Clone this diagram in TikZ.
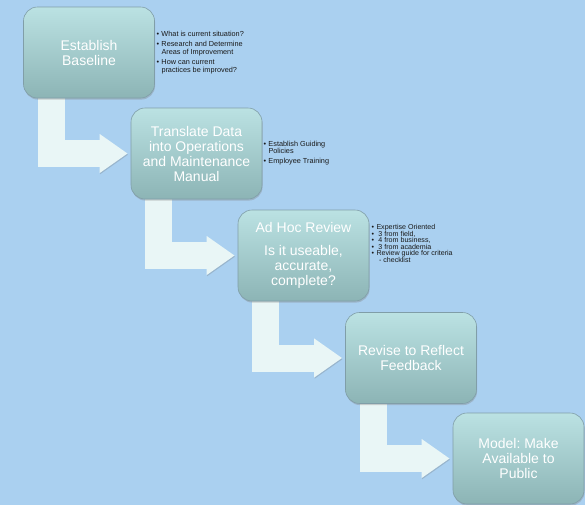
\documentclass[tikz,border=0pt]{standalone}
\usepackage{fontspec}
\setmainfont{Liberation Sans}
\usepackage{tikz}
\frenchspacing
\definecolor{bgblue}{RGB}{170,208,240}
\definecolor{boxtop}{RGB}{187,226,227}
\definecolor{boxbot}{RGB}{140,180,181}
\definecolor{boxline}{RGB}{128,158,168}
\definecolor{arrowfill}{RGB}{233,246,246}
\tikzstyle{stage}=[shape=rectangle,
                rounded corners=14pt,
                minimum width=131pt,
                minimum height=91pt,
                inner sep=0pt,
                top color=boxtop,
                bottom color=boxbot,
                draw=boxline,
                line width=0.6pt,
                text=white,
                align=center,
                font=\fontsize{14}{15}\selectfont,
                drop shadow={shadow xshift=0.6pt, shadow yshift=-1.6pt, opacity=0.35}]
\tikzstyle{notes}=[align=left,
                inner sep=0pt,
                text=black!90,
                font=\fontsize{7.3}{8}\selectfont]
\tikzstyle{flow}=[line width=27pt,
                draw=arrowfill,
                -{Triangle[width=37pt, length=28pt]},
                shorten >=3pt,
                preaction={draw=black!60, opacity=0.25,
                           transform canvas={shift={(0.5pt,-1.2pt)}}}]
\usetikzlibrary{positioning, calc, arrows.meta, shadows}
\pgfdeclarelayer{bg}
\pgfdeclarelayer{arr}
\pgfsetlayers{bg,arr,main}
\newcommand{\bul}{\makebox[5pt][l]{\textbullet}}
\newcommand{\bulind}{\hspace*{5pt}}

\begin{document}
\begin{tikzpicture}[x=1pt, y=1pt]

\useasboundingbox (0,0) rectangle (585,-504);
\begin{pgfonlayer}{bg}
\fill[bgblue] (-5,5) rectangle (590,-510);
\end{pgfonlayer}

% steps
\node[stage] (b1) at (89,-52.5)    {Establish\\Baseline};
\node[stage] (b2) at (196.5,-153.5) {Translate Data\\into Operations\\and Maintenance\\Manual};
\node[stage] (b3) at (303.5,-255.5) {Ad Hoc Review\\[8pt]Is it useable,\\accurate,\\complete?};
\node[stage] (b4) at (411,-358)     {Revise to Reflect\\Feedback};
\node[stage] (b5) at (518.5,-458.5) {Model: Make\\Available to\\Public};

% notes
\node[notes, right=1.5pt of b1.east] (n1) {\bul What is current situation?\\[2pt]
\bul Research and Determine\\ \bulind Areas of Improvement\\[2pt]
\bul How can current\\ \bulind practices be improved?};
\node[notes, right=1pt of b2.east, font=\fontsize{7.3}{7}\selectfont] (n2) {\bul Establish Guiding\\ \bulind Policies\\[3pt]
\bul Employee Training};
\node[notes, right=2pt of b3.east, yshift=12pt, font=\fontsize{7.1}{6.2}\selectfont] (n3) {\bul Expertise Oriented\\
\bul\ 3 from field,\\
\bul\ 4 from business,\\
\bul\ 3 from academia\\
\bul Review guide for criteria\\ \bulind\hspace*{2.5pt}- checklist};

% arrows
\begin{pgfonlayer}{arr}
\draw[flow] ($(b1.south west)+(28,10)$) |- (b2.west);
\draw[flow] ($(b2.south west)+(28,10)$) |- (b3.west);
\draw[flow] ($(b3.south west)+(28,10)$) |- (b4.west);
\draw[flow] ($(b4.south west)+(28,10)$) |- (b5.west);
\end{pgfonlayer}

\end{tikzpicture}
\end{document}
